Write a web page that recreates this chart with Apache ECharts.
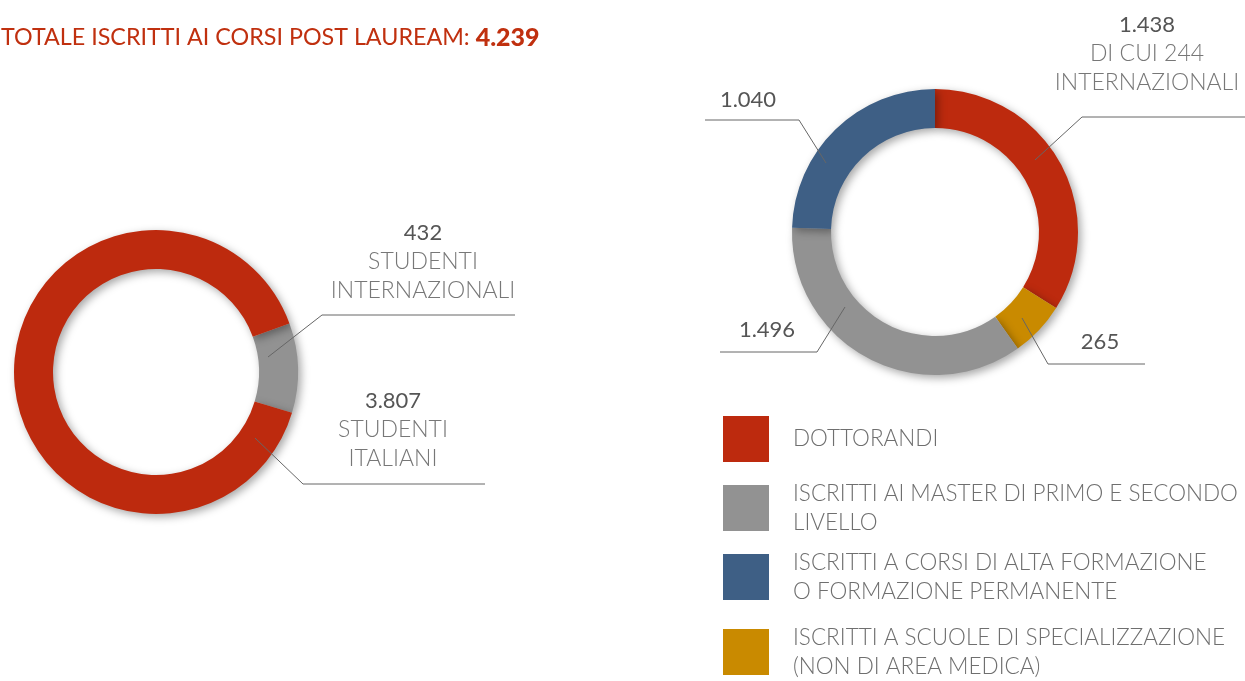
<!DOCTYPE html>
<html>
<head>
<meta charset="UTF-8">
<title>Iscritti post lauream</title>
<script src="https://cdn.jsdelivr.net/npm/echarts@6/dist/echarts.min.js"></script>
<style>
  html, body { margin: 0; padding: 0; background: #fff; }
  #main { width: 1245px; height: 681px; }
</style>
</head>
<body>
<div id="main"></div>
<script type="text/javascript">
    // dati
    var leftNames = ['STUDENTI\nINTERNAZIONALI', 'STUDENTI\nITALIANI'];
    var leftValues = [432, 3807];
    var rightNames = ['DOTTORANDI', 'ISCRITTI AI MASTER DI PRIMO E SECONDO\nLIVELLO',
        'ISCRITTI A CORSI DI ALTA FORMAZIONE\nO FORMAZIONE PERMANENTE',
        'ISCRITTI A SCUOLE DI SPECIALIZZAZIONE\n(NON DI AREA MEDICA)'];
    var rightValues = [1438, 1496, 1040, 265];
    var rightNotes = ['DI CUI 244\nINTERNAZIONALI', '', '', ''];
    // ordine degli spicchi a destra (in senso orario dall'alto)
    var rightOrder = [0, 3, 1, 2];

    var RED = '#bd2a0e', GRAY = '#929292', BLUE = '#3e5f85', GOLD = '#c98a00';
    var rightColors = [RED, GRAY, BLUE, GOLD];
    var FONT = 'Lato';

    function fmt(n) {
        return String(n).replace(/\B(?=(\d{3})+(?!\d))/g, '.');
    }
    var total = leftValues.reduce(function (a, b) { return a + b; }, 0);

    // posizioni delle etichette (centro testo + linea)
    var leftLabelPos = [
        {x: 423, y: 262, line: [[268, 357], [322, 315], [515, 315]]},
        {x: 393, y: 430, line: [[255, 438], [303, 484], [485, 484]]}
    ];
    var rightLabelPos = {
        0: {x: 1147, y: 54, line: [[1035, 160], [1082, 117], [1245, 117]]},
        3: {x: 1100, y: 342, line: [[1022, 318], [1048, 364], [1145, 364]]},
        1: {x: 767, y: 330, line: [[845, 307], [817, 352], [720, 352]]},
        2: {x: 748, y: 100, line: [[826, 163], [799, 120], [705, 120]]}
    };
    // top di ciascuna voce di legenda
    var legendTops = [416, 479, 548, 623];

    var rich = {
        v: {fontFamily: FONT, fontSize: 22, color: '#555', lineHeight: 29, align: 'center'},
        t: {fontFamily: FONT, fontSize: 23, fontWeight: 300, color: '#777', lineHeight: 29, align: 'center'}
    };

    function labelText(value, note) {
        var s = '{v|' + fmt(value) + '}';
        if (note) {
            note.split('\n').forEach(function (l) { s += '\n{t|' + l + '}'; });
        }
        return s;
    }

    var leftData = leftNames.map(function (n, i) {
        return {name: n, value: leftValues[i], note: n, pos: leftLabelPos[i], itemStyle: {color: i === 0 ? GRAY : RED}};
    });
    var rightData = rightOrder.map(function (i) {
        return {name: rightNames[i], value: rightValues[i], note: rightNotes[i], pos: rightLabelPos[i], itemStyle: {color: rightColors[i]}};
    });

    var shadow = {
        shadowBlur: 8,
        shadowColor: 'rgba(0,0,0,0.35)',
        shadowOffsetX: 3,
        shadowOffsetY: 3
    };

    // anello colorato
    function ringSeries(name, center, radius, startAngle, data) {
        return {
            name: name,
            type: 'pie',
            z: 2,
            center: center,
            radius: radius,
            startAngle: startAngle,
            silent: true,
            itemStyle: shadow,
            label: {show: false},
            labelLine: {show: false},
            data: data
        };
    }

    // stesso anello trasparente, sopra, solo per etichette e linee
    function labelSeries(name, center, radius, startAngle, data) {
        return {
            name: name + '-etichette',
            type: 'pie',
            z: 5,
            center: center,
            radius: radius,
            startAngle: startAngle,
            silent: true,
            itemStyle: {color: 'rgba(0,0,0,0)'},
            label: {
                show: true,
                position: 'outside',
                overflow: 'none',
                formatter: function (p) {
                    return labelText(p.value, p.data.note);
                },
                rich: rich
            },
            labelLine: {show: true, lineStyle: {color: '#666', width: 1}},
            labelLayout: function (p) {
                var pos = data[p.dataIndex].pos;
                return {x: pos.x, y: pos.y, align: 'center', verticalAlign: 'middle', labelLinePoints: pos.line};
            },
            data: data.map(function (d) {
                return {name: d.name + ' ', value: d.value, note: d.note};
            })
        };
    }

    var legends = rightNames.map(function (n, i) {
        return {
            orient: 'vertical',
            left: 723,
            top: legendTops[i],
            padding: 0,
            itemWidth: 46,
            itemHeight: 46,
            icon: 'rect',
            selectedMode: false,
            data: [n],
            textStyle: {
                fontFamily: FONT,
                fontSize: 22.5,
                fontWeight: 300,
                color: '#6f6f6f',
                lineHeight: 29,
                padding: [0, 0, 0, 19]
            }
        };
    });

    var myChart = echarts.init(document.getElementById('main'));
    var option = {
        animation: false,
        title: {
            text: '{a|TOTALE ISCRITTI AI CORSI POST LAUREAM: }{b|' + fmt(total) + '}',
            left: -4,
            top: 20,
            textStyle: {
                rich: {
                    a: {fontFamily: FONT, fontSize: 23.3, fontWeight: 400, color: '#c0300f'},
                    b: {fontFamily: FONT, fontSize: 25, fontWeight: 900, color: '#c0300f'}
                }
            }
        },
        legend: legends,
        series: [
            ringSeries('studenti', [156, 372], [103, 142], 20, leftData),
            ringSeries('corsi', [935, 232], [104, 143], 90, rightData),
            labelSeries('studenti', [156, 372], [103, 142], 20, leftData),
            labelSeries('corsi', [935, 232], [104, 143], 90, rightData)
        ]
    };
    myChart.setOption(option);
</script>
</body>
</html>
